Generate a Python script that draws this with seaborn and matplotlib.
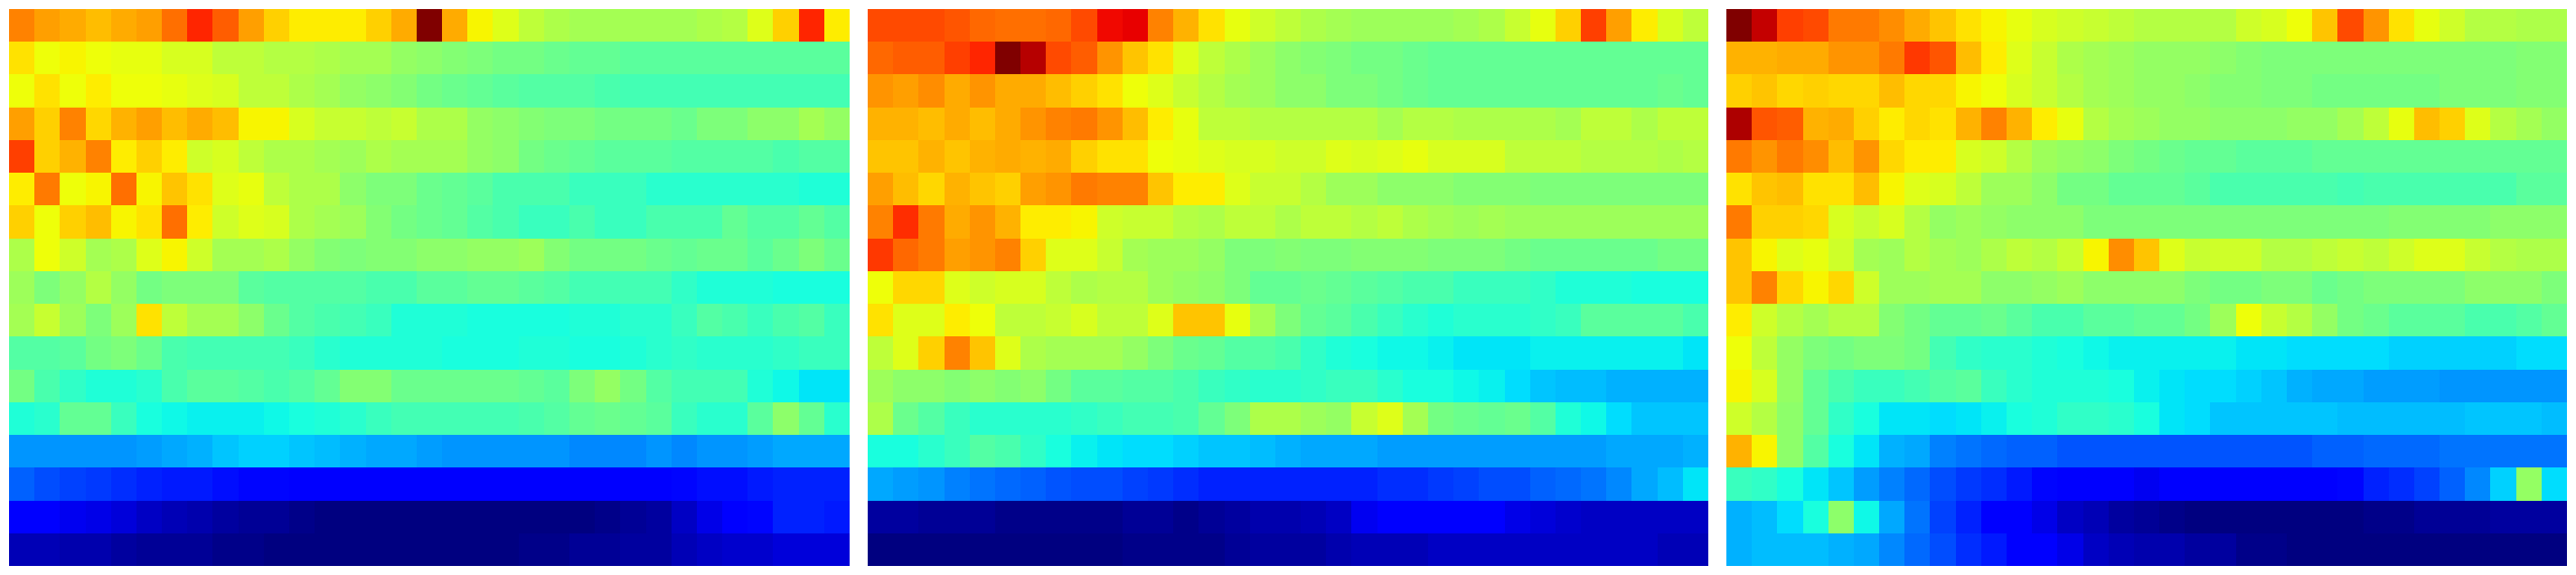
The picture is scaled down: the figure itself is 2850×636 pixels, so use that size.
import numpy as np
import seaborn as sns
import matplotlib
matplotlib.use("Agg")
import matplotlib.pyplot as plt

# valores, em % da escala de cada painel
painel_a = [
    [77,74,73,71,73,74,79,87,81,74,69,66,66,66,69,73,100,73,65,62,58,56,55,55,55,55,55,56,57,62,69,87,66],
    [67,64,65,64,63,63,61,61,58,58,57,57,56,55,55,53,52,51,50,49,49,48,47,47,46,46,46,46,46,46,46,46,46],
    [64,67,64,66,64,64,63,62,61,58,58,56,55,53,52,51,49,48,47,46,45,45,45,44,43,43,43,43,43,43,43,43,43],
    [74,69,77,68,72,74,71,73,71,65,65,61,59,59,58,59,56,56,53,52,51,50,50,49,49,49,48,50,50,52,52,55,53],
    [84,69,72,77,66,69,66,60,61,58,56,56,55,54,56,55,55,55,53,52,49,48,47,46,46,46,45,45,45,45,44,45,45],
    [66,78,64,65,79,65,70,67,62,63,58,56,56,52,50,50,48,47,46,44,44,44,42,42,42,40,40,40,40,40,40,39,39],
    [69,64,69,71,65,67,79,66,60,62,61,56,55,54,51,49,48,47,45,44,42,42,44,42,42,44,44,44,47,45,45,47,45],
    [56,64,60,55,56,62,65,60,55,55,56,53,51,50,51,51,52,52,53,53,54,51,49,49,49,48,47,48,48,46,48,50,48],
    [54,50,53,57,53,49,50,50,50,46,45,45,45,45,44,44,46,46,47,47,46,45,43,43,43,43,41,39,39,39,38,38,38],
    [55,59,54,50,54,67,58,55,55,52,48,45,44,43,42,39,39,39,38,38,38,38,39,39,40,40,42,45,44,42,44,45,42],
    [45,45,46,49,50,48,44,43,43,43,43,42,40,39,39,39,39,38,38,38,39,39,38,38,39,40,41,40,40,40,41,42,42],
    [49,44,41,39,39,40,44,46,46,45,44,45,47,51,51,48,48,48,48,48,47,46,50,53,49,45,43,43,43,39,37,35,35],
    [39,40,47,47,42,38,37,36,36,36,37,38,39,40,42,43,43,43,43,43,44,45,47,48,47,46,42,40,40,46,52,47,40],
    [27,27,27,27,27,28,29,30,32,33,33,32,31,30,29,29,28,27,27,27,27,27,26,26,26,27,26,27,27,28,29,29,29],
    [22,20,19,18,17,16,15,15,14,13,13,12,12,12,12,12,12,12,12,12,12,12,12,12,12,12,13,14,14,15,16,16,16],
    [11,11,10,9,8,6,5,4,3,2,2,1,0,0,0,0,0,0,0,0,0,0,0,1,2,3,6,9,11,13,16,16,15],
    [5,5,4,4,3,2,2,2,1,1,0,0,0,0,0,0,0,0,0,0,1,1,2,2,3,3,5,6,7,7,8,8,8],
]

painel_b = [
    [83,83,83,82,80,79,79,80,83,90,91,77,72,67,63,60,58,56,55,54,54,54,54,55,56,59,63,69,84,74,66,61,58],
    [80,81,81,84,87,100,95,83,81,75,70,67,62,58,56,54,52,51,50,49,49,48,47,47,47,47,47,47,47,47,47,47,47],
    [75,74,76,73,75,73,73,71,69,67,64,62,59,57,55,54,52,52,50,50,49,48,47,47,47,47,47,47,47,47,47,48,47],
    [72,72,71,73,71,73,75,77,78,75,71,66,63,58,58,57,57,57,57,57,55,57,57,56,56,56,56,55,58,58,56,58,58],
    [70,70,72,70,72,73,72,73,69,67,67,64,63,62,61,61,60,60,62,61,62,63,61,61,61,58,58,58,57,57,57,56,57],
    [74,71,68,72,70,69,74,75,78,77,77,70,66,66,62,59,59,57,54,54,52,52,52,51,51,51,50,50,50,50,50,50,50],
    [77,86,78,73,75,72,66,66,65,60,59,59,57,56,58,58,56,58,58,57,58,56,55,54,55,54,54,54,54,54,54,54,54],
    [85,80,78,74,75,77,69,62,62,59,55,54,54,53,50,50,51,50,50,51,51,51,50,50,50,49,48,48,48,48,48,49,49],
    [64,68,68,62,60,61,61,58,56,57,57,54,53,52,50,47,47,48,47,46,45,44,44,42,42,42,41,39,39,39,38,38,38],
    [67,62,62,66,64,58,58,59,61,58,58,62,70,70,63,55,50,47,46,44,42,40,39,40,40,40,41,42,46,46,46,46,44],
    [58,62,69,77,70,62,56,55,55,55,53,50,48,47,45,45,44,41,39,38,37,37,36,35,35,35,36,36,36,36,36,36,35],
    [54,52,52,51,52,51,52,49,46,46,45,45,44,42,41,40,40,41,42,42,40,38,38,37,36,34,32,31,31,30,30,30,30],
    [56,48,45,42,40,40,40,40,41,42,43,43,44,47,50,56,56,54,53,59,62,55,49,48,47,48,45,39,37,34,32,32,32],
    [38,38,40,42,45,44,41,38,36,35,34,34,33,32,32,31,30,29,29,29,28,28,28,28,28,28,28,28,28,29,29,29,30],
    [29,28,27,25,24,23,22,21,20,20,19,18,17,16,16,16,16,16,16,16,17,17,18,19,20,20,22,23,24,26,29,31,35],
    [3,3,2,2,2,1,1,1,1,1,2,2,1,2,3,4,4,5,6,10,11,11,11,11,11,9,8,7,6,6,6,6,6],
    [0,0,0,0,0,0,0,0,0,0,1,1,1,1,2,3,3,3,4,5,5,5,6,6,6,6,6,6,6,6,6,5,5],
]

painel_c = [
    [100,94,84,83,78,78,76,73,70,67,65,63,61,60,59,58,57,57,57,57,60,61,64,70,83,75,67,63,60,57,57,56,56],
    [72,72,73,73,75,75,78,85,82,71,66,62,59,56,55,54,53,53,53,52,51,50,50,50,50,50,50,50,50,50,50,51,51],
    [69,70,68,69,68,68,71,68,68,65,64,61,59,57,55,54,53,53,52,51,51,50,50,49,49,49,49,49,50,50,50,51,51],
    [96,82,81,72,73,69,66,68,67,72,77,72,66,63,57,55,54,53,53,52,52,52,53,53,55,58,63,71,69,62,57,55,53],
    [78,75,78,76,71,75,68,66,66,61,60,57,54,53,52,50,49,48,47,47,46,46,46,47,47,47,47,47,47,47,47,47,47],
    [67,70,71,67,67,71,65,62,61,58,54,54,52,49,49,47,47,47,46,44,44,44,44,44,43,44,44,44,44,44,44,46,46],
    [78,69,69,68,61,59,61,57,53,54,53,52,52,52,50,50,50,50,50,50,50,50,50,50,50,50,51,51,51,51,52,52,52],
    [70,65,62,63,60,55,54,57,55,54,56,58,57,59,65,76,70,62,59,60,60,57,57,58,59,58,60,62,62,59,57,56,56],
    [70,77,68,65,68,60,54,54,55,55,52,52,53,54,52,52,52,52,50,49,49,50,50,48,49,50,50,50,50,52,52,52,50],
    [66,60,57,55,57,57,51,49,47,47,48,46,44,44,46,46,47,47,49,54,64,59,57,53,49,48,46,46,46,44,44,45,47],
    [64,58,53,50,49,50,50,49,43,41,40,40,39,38,37,36,36,36,36,36,35,35,34,34,34,34,33,33,33,33,33,34,34],
    [65,61,53,47,44,42,42,43,45,46,42,40,39,39,39,38,36,35,34,34,33,32,30,29,29,28,28,28,27,27,27,27,27],
    [60,57,52,47,41,38,35,35,34,35,36,38,39,41,41,40,38,35,34,32,32,32,32,32,31,31,31,31,31,32,32,32,31],
    [72,65,52,45,38,35,30,29,25,24,23,22,22,21,21,21,21,21,21,21,21,21,21,22,22,23,23,23,24,24,24,24,24],
    [42,41,38,35,32,28,25,23,20,18,17,15,13,12,12,12,10,11,11,11,11,11,11,11,13,16,17,19,22,26,33,53,34],
    [30,31,34,38,52,37,29,24,19,16,12,11,9,6,5,3,2,1,0,0,0,0,0,0,0,1,1,2,2,2,3,3,3],
    [30,31,31,31,30,29,26,23,20,17,15,11,11,9,6,5,4,4,3,3,1,1,0,0,0,0,0,0,0,0,0,0,0],
]

paineis = [painel_a, painel_b, painel_c]

fig, eixos = plt.subplots(1, 3, figsize=(28.5, 6.36), dpi=100)
fig.subplots_adjust(left=10/2850, right=2840/2850, bottom=10/636, top=626/636, wspace=20/930)

for ax, painel in zip(eixos, paineis):
    sns.heatmap(
        np.array(painel),
        ax=ax,
        cmap="jet",
        vmin=0,
        vmax=100,
        cbar=False,
        xticklabels=False,
        yticklabels=False,
    )
    ax.set_xlabel("")
    ax.set_ylabel("")

plt.savefig("out.png", dpi=100)
